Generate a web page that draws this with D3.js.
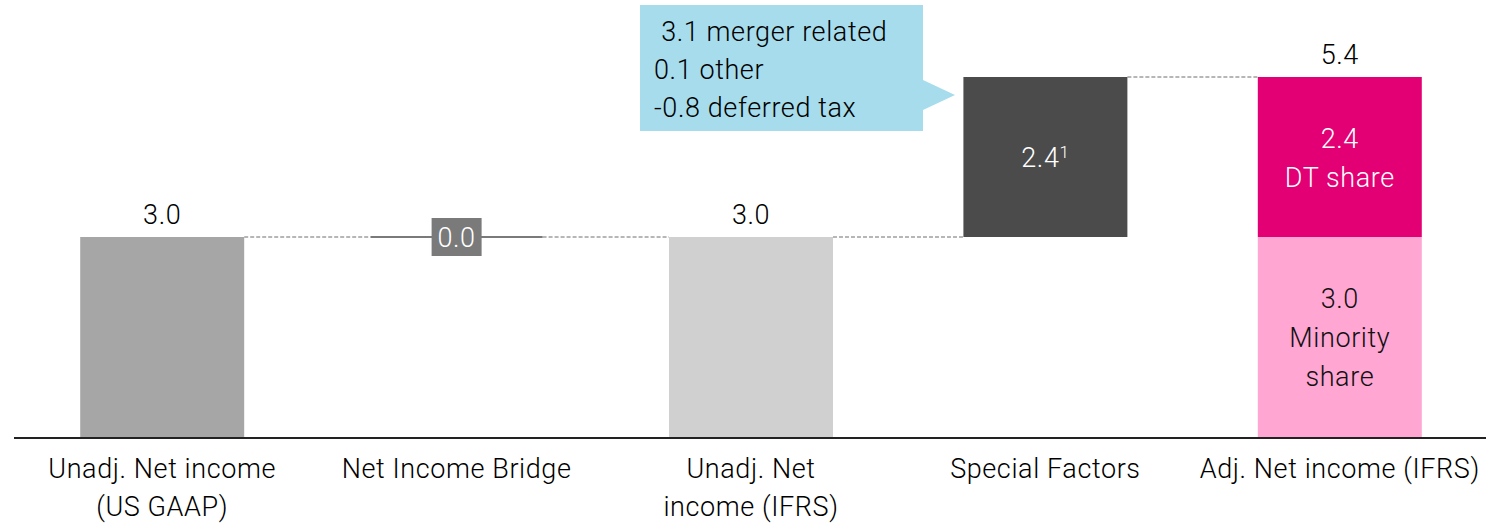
<!DOCTYPE html>
<html>
<head>
<meta charset="utf-8">
<script src="https://cdn.jsdelivr.net/npm/d3@7"></script>
<style>
  body { margin: 0; background: #fff; }
  text { font-family: Roboto, "Liberation Sans", sans-serif; font-weight: 300; letter-spacing: 0.6px; }
</style>
</head>
<body>
<script>
// categories and values of the bridge
const categories = [
  ["Unadj. Net income", "(US GAAP)"],
  ["Net Income Bridge"],
  ["Unadj. Net", "income (IFRS)"],
  ["Special Factors"],
  ["Adj. Net income (IFRS)"]
];
const barStart = [0, 3.0, 0, 3.0, 0];
const barEnd = [3.0, 3.0, 3.0, 5.4, 5.4];
const barLabels = ["3.0", "0.0", "3.0", "2.4", "5.4"];
const barColors = ["#a6a6a6", "#7a7a7a", "#d0d0d0", "#4b4b4b", null];

// stacked split of the last bar
const shareNames = [["3.0", "Minority", "share"], ["2.4", "DT share"]];
const shareValues = [3.0, 2.4];
const shareColors = ["#ffa6d3", "#e20074"];

const calloutLines = [" 3.1 merger related", "0.1 other", "-0.8 deferred tax"];

const W = 1486, H = 526;
const FS = 27;
const svg = d3.select("body").append("svg")
  .attr("width", W)
  .attr("height", H);

const x = d3.scaleBand()
  .domain(d3.range(categories.length))
  .range([15, 1487])
  .paddingInner(0.443)
  .paddingOuter(0.2215);

const y = d3.scaleLinear()
  .domain([0, 5.4])
  .range([437, 77]);

const bw = x.bandwidth();

// connectors
for (let i = 0; i < categories.length - 1; i++) {
  const level = barEnd[i];
  const x1 = i === 1 ? x(i) + bw + 4 : x(i) + bw;
  const x2 = i + 1 === 1 ? x(i + 1) - 4 : x(i + 1);
  svg.append("line")
    .attr("x1", x1).attr("x2", x2)
    .attr("y1", y(level)).attr("y2", y(level))
    .attr("stroke", "#6f6f6f")
    .attr("stroke-width", 1)
    .attr("stroke-dasharray", "4,2");
}

// bars (skip the stacked one)
categories.forEach((c, i) => {
  if (i === 4) return;
  const lo = Math.min(barStart[i], barEnd[i]);
  const hi = Math.max(barStart[i], barEnd[i]);
  if (hi - lo === 0) {
    // zero change: thin line with a boxed label
    svg.append("line")
      .attr("x1", x(i) - 4).attr("x2", x(i) + bw + 4)
      .attr("y1", y(hi)).attr("y2", y(hi))
      .attr("stroke", barColors[i])
      .attr("stroke-width", 2);
    svg.append("rect")
      .attr("x", x(i) + bw / 2 - 25)
      .attr("y", y(hi) - 19)
      .attr("width", 50)
      .attr("height", 38)
      .attr("fill", barColors[i]);
    svg.append("text")
      .attr("x", x(i) + bw / 2)
      .attr("y", y(hi) + 10)
      .attr("text-anchor", "middle")
      .attr("font-size", FS)
      .attr("fill", "#fff")
      .text(barLabels[i]);
    return;
  }
  svg.append("rect")
    .attr("x", x(i))
    .attr("y", y(hi))
    .attr("width", bw)
    .attr("height", y(lo) - y(hi))
    .attr("fill", barColors[i]);
});

// value labels above total bars
[0, 2, 4].forEach(i => {
  svg.append("text")
    .attr("x", x(i) + bw / 2)
    .attr("y", y(barEnd[i]) - 13)
    .attr("text-anchor", "middle")
    .attr("font-size", FS)
    .attr("fill", "#000")
    .text(barLabels[i]);
});

// special factors label with footnote
const sf = svg.append("text")
  .attr("x", x(3) + bw / 2)
  .attr("y", (y(barStart[3]) + y(barEnd[3])) / 2 + 10)
  .attr("text-anchor", "middle")
  .attr("font-size", FS)
  .attr("fill", "#fff");
sf.append("tspan").text(barLabels[3]);
sf.append("tspan").attr("font-size", 17).attr("dy", -9).text("1");

// stacked last bar
let acc = 0;
shareValues.forEach((v, k) => {
  const top = y(acc + v), bot = y(acc);
  svg.append("rect")
    .attr("x", x(4))
    .attr("y", top)
    .attr("width", bw)
    .attr("height", bot - top)
    .attr("fill", shareColors[k]);
  const lines = shareNames[k];
  const mid = (top + bot) / 2;
  const t = svg.append("text")
    .attr("text-anchor", "middle")
    .attr("font-size", FS)
    .attr("fill", k === 0 ? "#111" : "#fff");
  lines.forEach((s, j) => {
    t.append("tspan")
      .attr("x", x(4) + bw / 2)
      .attr("y", mid + 10 + (j - (lines.length - 1) / 2) * 39)
      .text(s);
  });
  acc += v;
});

// callout
svg.append("path")
  .attr("d", "M640,5 L923,5 L923,80 L955,95 L923,110 L923,131 L640,131 Z")
  .attr("fill", "#a6dcec");
const ct = svg.append("text")
  .attr("font-size", FS)
  .attr("fill", "#000")
  .attr("xml:space", "preserve");
calloutLines.forEach((s, j) => {
  ct.append("tspan")
    .attr("x", 654)
    .attr("y", 41 + j * 38)
    .text(s);
});

// axis baseline
svg.append("line")
  .attr("x1", 14).attr("x2", W)
  .attr("y1", y(0) + 1).attr("y2", y(0) + 1)
  .attr("stroke", "#222")
  .attr("stroke-width", 2);

// category labels
categories.forEach((c, i) => {
  const t = svg.append("text")
    .attr("text-anchor", "middle")
    .attr("font-size", FS)
    .attr("fill", "#000");
  c.forEach((s, j) => {
    t.append("tspan")
      .attr("x", x(i) + bw / 2)
      .attr("y", 478 + j * 38)
      .text(s);
  });
});
</script>
</body>
</html>
